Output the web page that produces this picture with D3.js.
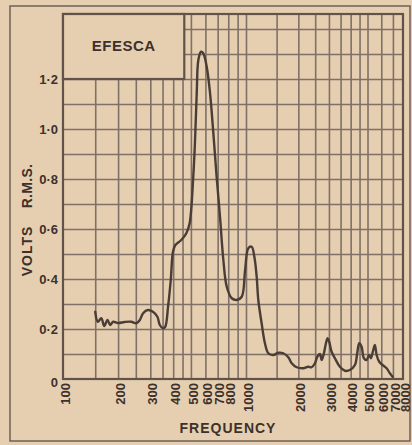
<!DOCTYPE html>
<html><head><meta charset="utf-8">
<script src="https://cdn.jsdelivr.net/npm/d3@7"></script>
<style>
html,body{margin:0;padding:0;background:#e6cfb0;}
svg{display:block}
</style>
</head><body>
<svg id="c" width="412" height="445"></svg>
<script>
// ---- data ----
const chartTitle = "EFESCA";
const xTitle = "FREQUENCY";
const yTitleA = "VOLTS";
const yTitleB = "R.M.S.";
const freqTickLabels = [100,200,300,400,500,600,700,800,1000,2000,3000,4000,5000,6000,7000,8000];
const freqGrid = [150,200,250,300,350,400,450,500,600,700,800,900,1000,1500,2000,2500,3000,3500,4000,4500,5000,6000,7000];
const voltTicks = [0,0.2,0.4,0.6,0.8,1.0,1.2];
const voltTickLabels = ["0","0·2","0·4","0·6","0·8","1·0","1·2"];
const voltGrid = [0.1,0.2,0.3,0.4,0.5,0.6,0.7,0.8,0.9,1.0,1.1,1.2,1.3,1.4];
const freq = [150,155,162,168,175,181,188,200,217,236,252,263,274,291,310,328,338,352,362,375,388,399,411,443,472,492,515,526,538,549,568,584,610,636,663,691,721,752,785,836,890,948,989,1031,1078,1117,1152,1177,1230,1285,1343,1435,1534,1638,1751,1832,1956,2135,2281,2385,2493,2571,2663,2723,2806,2883,2947,3011,3107,3246,3467,3704,3959,4231,4362,4479,4623,4766,4938,5113,5231,5394,5513,5640,5840,6106,6437,6723,6971];
const volts = [0.269,0.229,0.243,0.212,0.236,0.216,0.229,0.224,0.228,0.229,0.223,0.236,0.263,0.276,0.269,0.249,0.216,0.203,0.209,0.289,0.396,0.509,0.536,0.556,0.583,0.623,0.809,0.944,1.144,1.276,1.309,1.303,1.249,1.144,0.984,0.809,0.649,0.476,0.369,0.323,0.316,0.329,0.436,0.523,0.529,0.489,0.409,0.316,0.223,0.143,0.103,0.096,0.105,0.103,0.087,0.063,0.047,0.043,0.049,0.047,0.063,0.089,0.100,0.076,0.103,0.143,0.163,0.149,0.109,0.083,0.049,0.033,0.036,0.056,0.103,0.143,0.129,0.083,0.076,0.096,0.083,0.116,0.136,0.096,0.069,0.056,0.043,0.023,0.009];

// ---- layout ----
const ink = "#3d312c", gridCol = "#7f7068", bg = "#e6cfb0";
const font = "Liberation Sans, Arial, sans-serif";
const svg = d3.select("#c");
const x = d3.scaleLog().domain([100,1000,8000]).range([63,246,403]);
const y = d3.scaleLinear().domain([0,1.46]).range([379,14]);
const x0 = x(100), x1 = x(8000), y0 = y(0), y1 = y(1.46);

svg.append("rect").attr("width",412).attr("height",445).attr("fill",bg);
// outer frame
svg.append("rect").attr("x",10).attr("y",6).attr("width",400).attr("height",435)
  .attr("fill","none").attr("stroke","#6f6059").attr("stroke-width",1.5);

// grid via axes
const gx = svg.append("g").attr("transform",`translate(0,${y0})`)
  .call(d3.axisBottom(x).tickValues(freqGrid).tickSize(-(y0-y1)).tickFormat(""));
gx.select(".domain").remove();
gx.selectAll("line").attr("stroke",gridCol).attr("stroke-width",1.6);

const gy = svg.append("g").attr("transform",`translate(${x0},0)`)
  .call(d3.axisLeft(y).tickValues(voltGrid).tickSize(-(x1-x0)).tickFormat(""));
gy.select(".domain").remove();
gy.selectAll("line").attr("stroke",gridCol).attr("stroke-width",1.6);

// plot border
svg.append("rect").attr("x",x0).attr("y",y1).attr("width",x1-x0).attr("height",y0-y1)
  .attr("fill","none").attr("stroke","#61524a").attr("stroke-width",2.2);

// title box
svg.append("rect").attr("x",x0).attr("y",y1).attr("width",x(460)-x0).attr("height",y(1.2)-y1)
  .attr("fill",bg).attr("stroke","#61524a").attr("stroke-width",2.2);
svg.append("text").attr("x",(x0+x(460))/2).attr("y",(y1+y(1.2))/2-1)
  .attr("text-anchor","middle").attr("dominant-baseline","central")
  .attr("font-family",font).attr("font-weight","bold")
  .attr("font-size",15).attr("letter-spacing",0.5).attr("fill",ink).text(chartTitle);

// curve
svg.append("path").datum(freq.map((f,i)=>[f,volts[i]]))
  .attr("fill","none").attr("stroke","#4a3d37").attr("stroke-width",2.4)
  .attr("stroke-linejoin","round").attr("stroke-linecap","round")
  .attr("d",d3.line().x(d=>x(d[0])).y(d=>y(d[1])).curve(d3.curveCatmullRom.alpha(0.5)));

// x tick labels
const ax = svg.append("g").attr("transform",`translate(0,${y0})`)
  .call(d3.axisBottom(x).tickValues(freqTickLabels).tickSize(0).tickFormat(d=>String(d)));
ax.select(".domain").remove();
ax.selectAll("text")
  .attr("font-family",font).attr("font-size",13).attr("font-weight","bold")
  .attr("fill",ink)
  .attr("transform","rotate(-90)")
  .attr("text-anchor","end").attr("x",-4).attr("y",0).attr("dy","0.36em");
ax.selectAll(".tick").attr("transform",d=>`translate(${x(d)+2},0)`);

// y tick labels
const ay = svg.append("g").attr("transform",`translate(${x0},0)`)
  .call(d3.axisLeft(y).tickValues(voltTicks).tickSize(0).tickFormat((d,i)=>voltTickLabels[i]));
ay.select(".domain").remove();
ay.selectAll("text").attr("font-family",font).attr("font-size",13).attr("font-weight","bold")
  .attr("fill",ink).attr("x",-5).attr("dy","0.35em");
ay.selectAll(".tick").filter(d=>d===0).select("text").attr("dy","0.6em");

// axis titles
svg.append("text").attr("x",228).attr("y",433).attr("text-anchor","middle")
  .attr("font-family",font).attr("font-size",14).attr("font-weight","bold")
  .attr("letter-spacing",1).attr("fill",ink).text(xTitle);
svg.append("text").attr("transform","translate(32,251) rotate(-90)").attr("text-anchor","middle")
  .attr("font-family",font).attr("font-size",14).attr("font-weight","bold")
  .attr("letter-spacing",1).attr("fill",ink).text(yTitleA);
svg.append("text").attr("transform","translate(32,186) rotate(-90)").attr("text-anchor","middle")
  .attr("font-family",font).attr("font-size",14).attr("font-weight","bold")
  .attr("letter-spacing",0.3).attr("fill",ink).text(yTitleB);
</script>
</body></html>
